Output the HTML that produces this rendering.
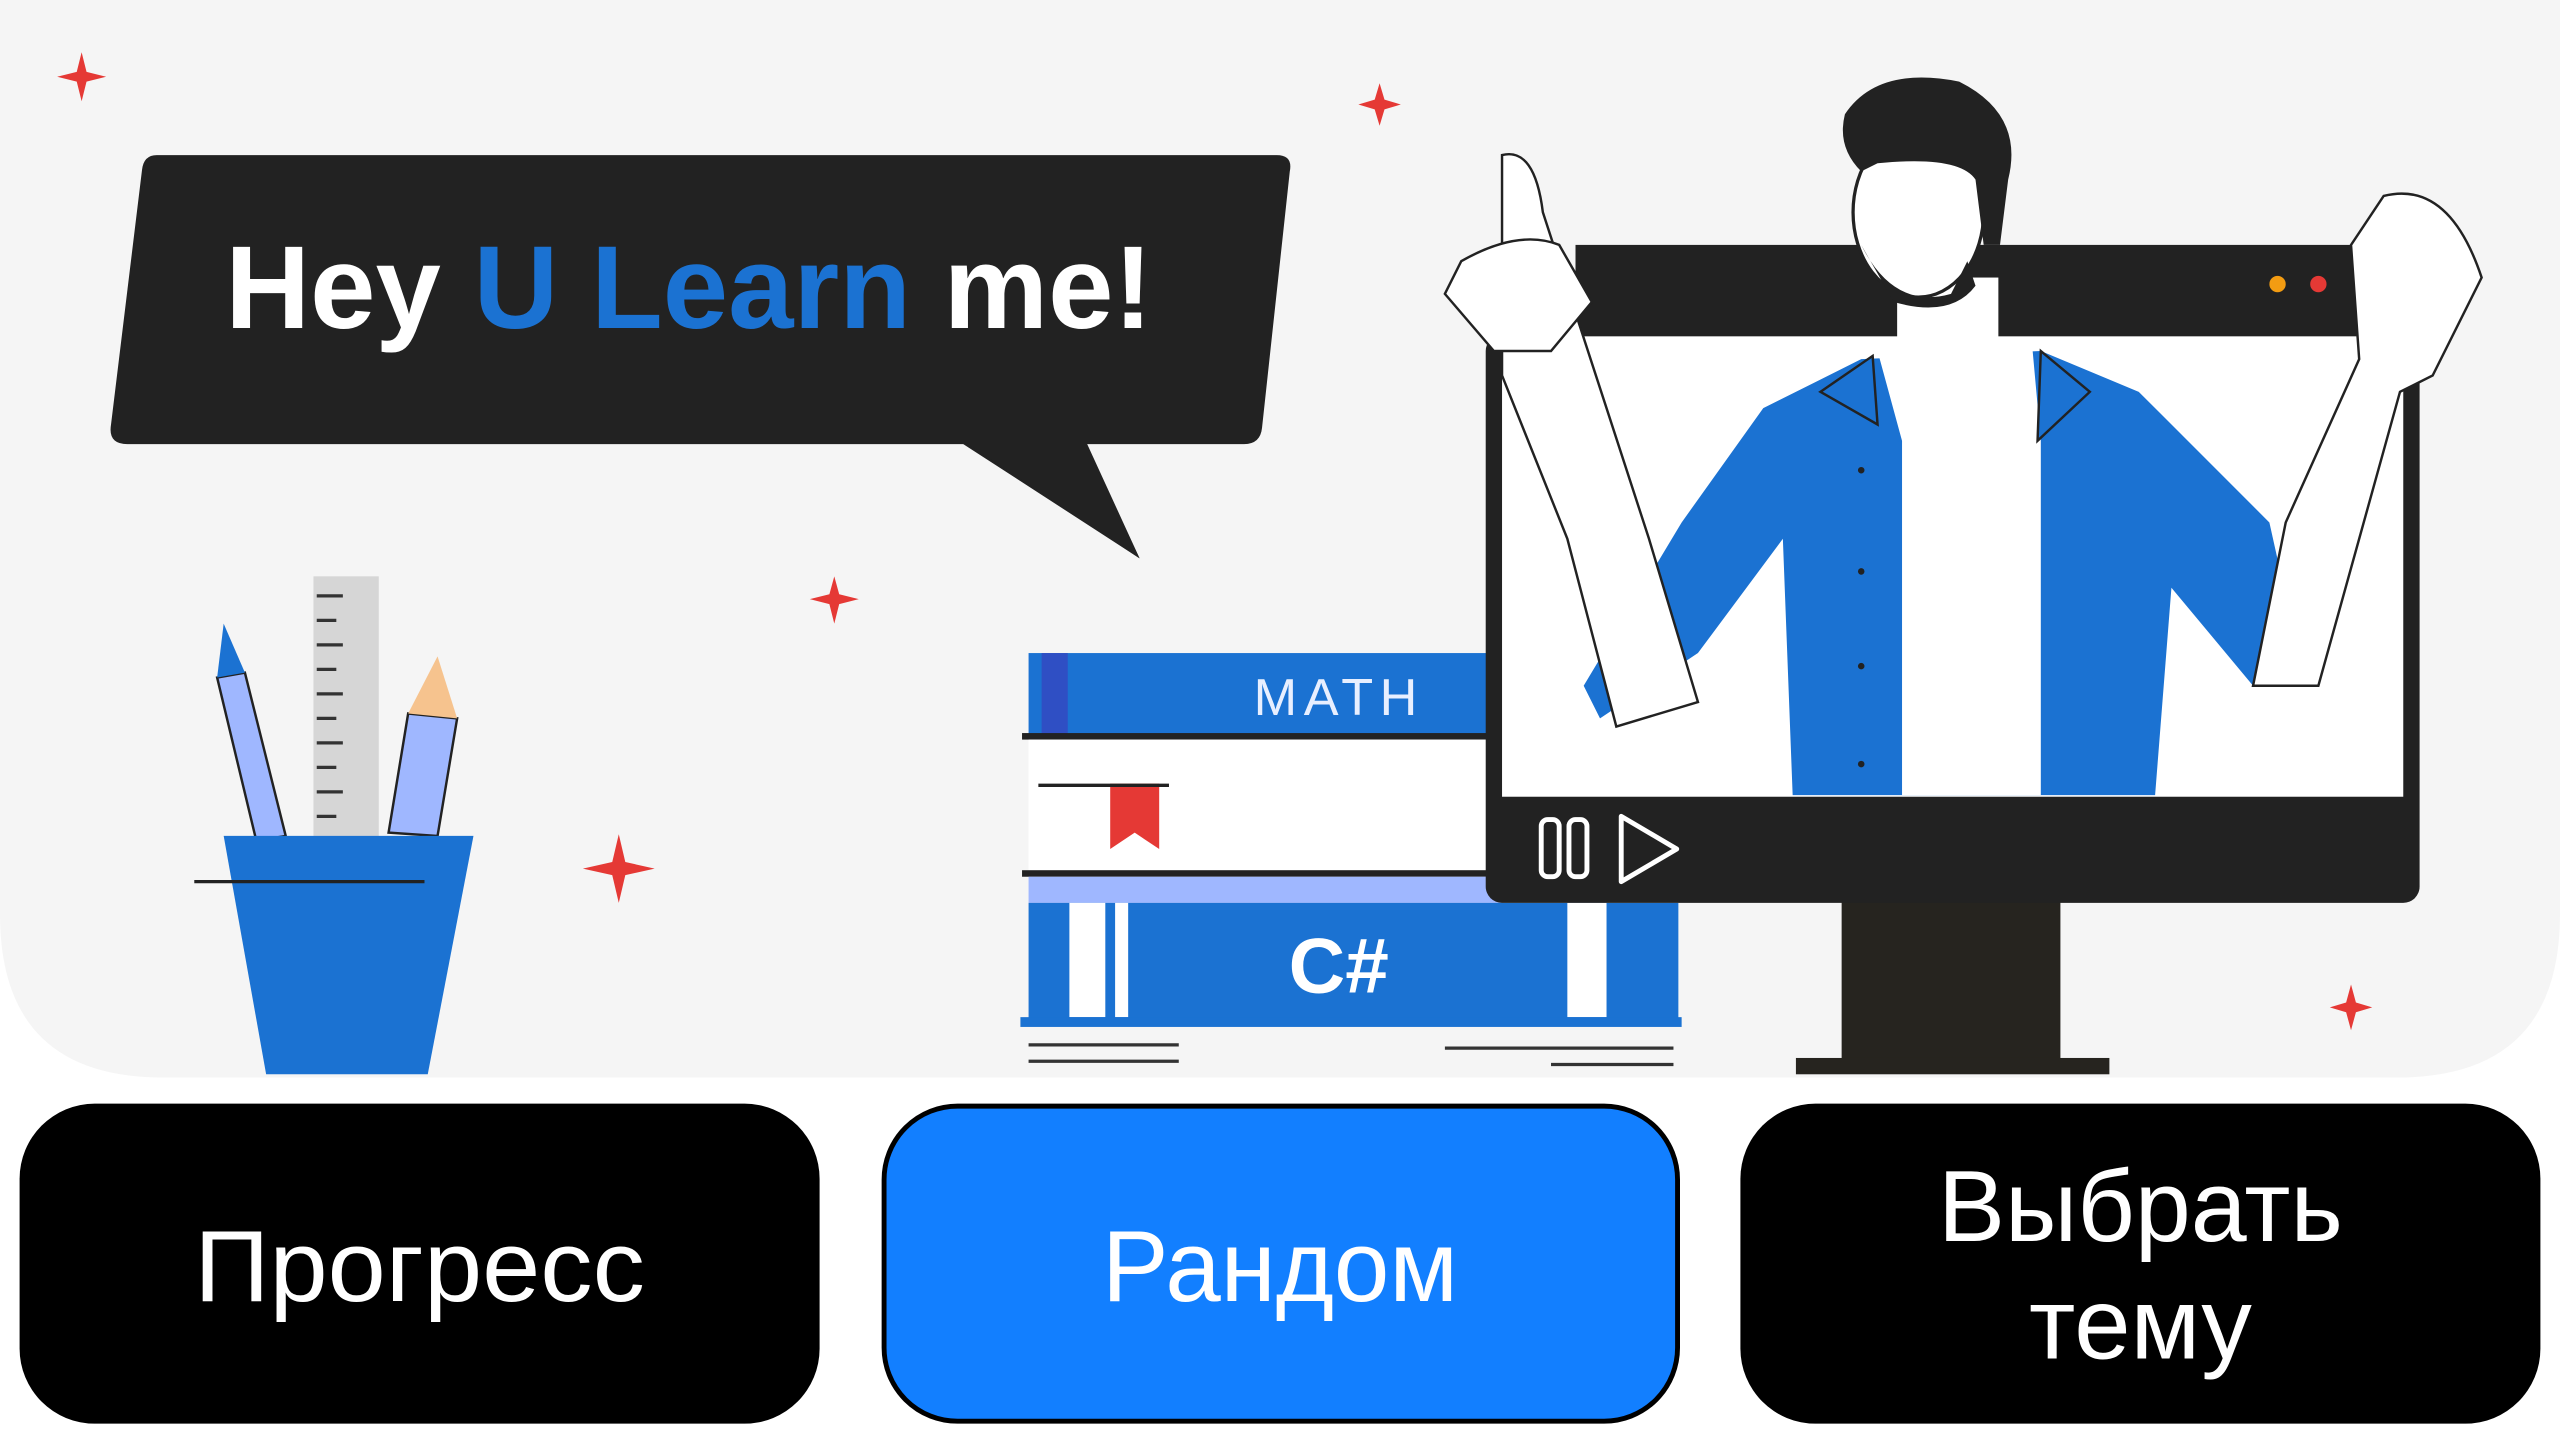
<!DOCTYPE html>
<html><head><meta charset="utf-8"><style>
html,body{margin:0;padding:0;background:#fff;}
svg{display:block}
text{font-family:"Liberation Sans","DejaVu Sans",sans-serif}
</style></head><body>
<svg width="2560" height="1440" viewBox="0 0 1568 882" xmlns="http://www.w3.org/2000/svg">
<rect x="0" y="0" width="1568" height="882" fill="#fff"/>
<path d="M0 0 H1568 V560 Q1568 660 1468 660 H100 Q0 660 0 560 Z" fill="#f5f5f5"/>
<g fill="#e53935">
<path d="M50 32 L53 44 L65 47 L53 50 L50 62 L47 50 L35 47 L47 44Z"/>
<path d="M845 51 L848 61 L858 64 L848 67 L845 77 L842 67 L832 64 L842 61Z"/>
<path d="M511 353 L514 364 L526 367 L514 370 L511 382 L508 370 L496 367 L508 364Z"/>
<path d="M379 511 L383 528 L401 532 L383 536 L379 553 L375 536 L357 532 L375 528Z"/>
<path d="M1440 603 L1443 614 L1453 617 L1443 620 L1440 631 L1437 620 L1427 617 L1437 614Z"/>
</g>
<path d="M96 95 H782 Q792 95 790 105 L773 262 Q772 272 762 272 H590 L698 342 L665 272 H590 H78 Q66 272 68 260 L87 104 Q88 95 96 95Z" fill="#222"/>
<path d="M590 270 L698 342 L665 270Z" fill="#222"/>
<text x="138" y="201" font-size="72" font-weight="bold" fill="#fff" textLength="568" lengthAdjust="spacingAndGlyphs">Hey <tspan fill="#1b72d2">U Learn</tspan> me!</text>
<rect x="192" y="353" width="40" height="160" fill="#d6d6d6"/>
<g stroke="#333" stroke-width="2">
<line x1="194" y1="365" x2="210" y2="365"/><line x1="194" y1="380" x2="206" y2="380"/><line x1="194" y1="395" x2="210" y2="395"/><line x1="194" y1="410" x2="206" y2="410"/><line x1="194" y1="425" x2="210" y2="425"/><line x1="194" y1="440" x2="206" y2="440"/><line x1="194" y1="455" x2="210" y2="455"/><line x1="194" y1="470" x2="206" y2="470"/><line x1="194" y1="485" x2="210" y2="485"/><line x1="194" y1="500" x2="206" y2="500"/>
</g>
<path d="M133 415 L150 412 L175 512 L157 515Z" fill="#9fb7ff" stroke="#222" stroke-width="1.5"/>
<path d="M133 415 L137 382 L150 412Z" fill="#1b72d2"/>
<path d="M250 437 L280 440 L268 512 L238 510Z" fill="#9fb7ff" stroke="#222" stroke-width="1.5"/>
<path d="M250 437 L268 402 L280 440Z" fill="#f6c38e"/>
<path d="M137 512 H290 L262 658 H163Z" fill="#1b72d2"/>
<line x1="119" y1="540" x2="260" y2="540" stroke="#222" stroke-width="2"/>
<rect x="630" y="400" width="290" height="50" fill="#1b72d2"/>
<rect x="638" y="400" width="16" height="50" fill="#2f4fc4"/>
<text x="820" y="438" font-size="32" fill="#e8efff" text-anchor="middle" letter-spacing="4">MATH</text>
<rect x="626" y="449" width="294" height="4" fill="#222"/>
<rect x="630" y="453" width="290" height="80" fill="#fff"/>
<path d="M680 480 H710 V520 L695 510 L680 520Z" fill="#e53935"/>
<line x1="636" y1="481" x2="716" y2="481" stroke="#222" stroke-width="2"/>
<rect x="626" y="533" width="294" height="4" fill="#222"/>
<rect x="630" y="537" width="290" height="16" fill="#9fb7ff"/>
<rect x="630" y="553" width="398" height="72" fill="#1b72d2"/>
<rect x="655" y="553" width="22" height="70" fill="#fff"/><rect x="683" y="553" width="8" height="70" fill="#fff"/>
<rect x="960" y="553" width="24" height="70" fill="#fff"/>
<text x="820" y="608" font-size="48" font-weight="bold" fill="#fff" text-anchor="middle">C#</text>
<rect x="625" y="623" width="405" height="6" fill="#1b72d2"/>
<g stroke="#333" stroke-width="2"><line x1="630" y1="640" x2="722" y2="640"/><line x1="630" y1="650" x2="722" y2="650"/><line x1="885" y1="642" x2="1025" y2="642"/><line x1="950" y1="652" x2="1025" y2="652"/></g>
<rect x="1128" y="550" width="134" height="100" fill="#26241f"/>
<rect x="1100" y="648" width="192" height="10" fill="#26241f"/>
<rect x="910" y="205" width="572" height="348" rx="10" fill="#222"/>
<rect x="920" y="205" width="552" height="283" fill="#fff"/>
<rect x="965" y="150" width="495" height="56" fill="#222"/>
<circle cx="1395" cy="174" r="5" fill="#f39c12"/><circle cx="1420" cy="174" r="5" fill="#e53935"/>
<g fill="none" stroke="#fff" stroke-width="3"><rect x="944" y="502" width="11" height="35" rx="4"/><rect x="961" y="502" width="11" height="35" rx="4"/><path d="M993 500 L1027 520 L993 540Z" stroke-linejoin="round"/></g>
<path d="M1098 487 L1092 330 L1040 400 L980 440 L970 420 L1030 320 L1080 250 L1140 220 L1250 215 L1310 240 L1390 320 L1410 410 L1380 420 L1330 360 L1320 487Z" fill="#1b72d2"/>
<path d="M1150 215 L1165 270 L1165 487 L1250 487 L1250 270 L1245 215Z" fill="#fff"/>
<path d="M1115 240 L1147 218 L1150 260Z M1250 215 L1280 240 L1248 270Z" fill="#1b72d2" stroke="#222" stroke-width="1.5"/>
<path d="M920 95 Q940 90 945 130 L1010 330 L1040 430 L990 445 L960 330 L920 230Z" fill="#fff" stroke="#222" stroke-width="1.5"/>
<path d="M895 160 Q930 140 955 150 L975 185 L950 215 L915 215 L885 180Z" fill="#fff" stroke="#222" stroke-width="1.5"/>
<path d="M1460 120 Q1500 110 1520 170 L1490 230 L1470 240 L1420 420 L1380 420 L1400 320 L1445 220 L1440 150Z" fill="#fff" stroke="#222" stroke-width="1.5"/>
<rect x="1162" y="170" width="62" height="50" fill="#fff"/>
<ellipse cx="1175" cy="130" rx="40" ry="52" fill="#fff" stroke="#222" stroke-width="2"/>
<path d="M1130 70 Q1150 40 1200 50 Q1240 70 1230 110 L1225 150 L1215 150 L1210 110 Q1200 95 1150 100 L1140 105 Q1125 90 1130 70Z" fill="#222"/>
<path d="M1140 150 Q1160 190 1195 180 L1205 160 L1210 175 Q1195 195 1160 185Z" fill="#222"/>
<g fill="#222"><circle cx="1140" cy="288" r="2"/><circle cx="1140" cy="350" r="2"/><circle cx="1140" cy="408" r="2"/><circle cx="1140" cy="468" r="2"/></g>
<rect x="12" y="676" width="490" height="196" rx="46" fill="#000"/>
<rect x="541.5" y="677.5" width="486" height="193" rx="45" fill="#127fff" stroke="#000" stroke-width="3"/>
<rect x="1066" y="676" width="490" height="196" rx="46" fill="#000"/>
<text x="257" y="797" font-size="62" fill="#fff" text-anchor="middle" textLength="276" lengthAdjust="spacingAndGlyphs">Прогресс</text>
<text x="784" y="797" font-size="62" fill="#fff" text-anchor="middle" textLength="218" lengthAdjust="spacingAndGlyphs">Рандом</text>
<text x="1311" y="760" font-size="62" fill="#fff" text-anchor="middle" textLength="248" lengthAdjust="spacingAndGlyphs">Выбрать</text>
<text x="1311" y="832" font-size="62" fill="#fff" text-anchor="middle">тему</text>
</svg>
</body></html>
